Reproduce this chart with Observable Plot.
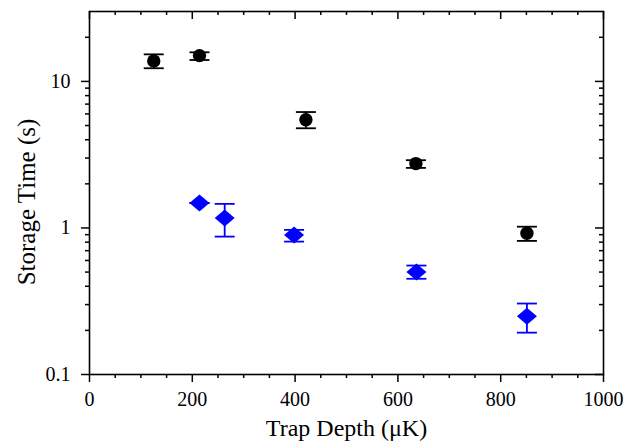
<!DOCTYPE html>
<html>
<head>
<meta charset="utf-8">
<script src="https://cdn.jsdelivr.net/npm/d3@7"></script>
<script src="https://cdn.jsdelivr.net/npm/@observablehq/plot@0.6"></script>
<style>
  html, body { margin: 0; padding: 0; background: #fff; }
  svg text { font-family: 'Liberation Serif', 'Times New Roman', serif !important; }
</style>
</head>
<body>
<div id="chart"></div>
<script>
// Data
const blackX  = [125, 214, 421, 635, 851];
const blackY  = [13.8, 15.0, 5.48, 2.75, 0.92];
const blackLo = [12.3, 14.0, 4.79, 2.57, 0.816];
const blackHi = [15.3, 15.8, 6.18, 2.90, 1.02];

const blueX  = [214, 263, 398, 636, 851];
const blueY  = [1.48, 1.17, 0.896, 0.50, 0.25];
const blueLo = [1.48, 0.873, 0.807, 0.45, 0.193];
const blueHi = [1.48, 1.46, 0.97, 0.554, 0.305];

const xMajor = [0, 200, 400, 600, 800, 1000];
const xMinor = [50, 100, 150, 250, 300, 350, 450, 500, 550, 650, 700, 750, 850, 900, 950];
const yMajor = [0.1, 1, 10];
const yMinor = [0.2, 0.3, 0.4, 0.5, 0.6, 0.7, 0.8, 0.9, 2, 3, 4, 5, 6, 7, 8, 9, 20];
const xTitle = "Trap Depth (\u03bcK)";
const yTitle = "Storage Time (s)";

const black = blackX.map((x, i) => ({x, y: blackY[i], lo: blackLo[i], hi: blackHi[i]}));
const blue  = blueX.map((x, i) => ({x, y: blueY[i], lo: blueLo[i], hi: blueHi[i]}));

const FONT = "'Liberation Serif', 'Times New Roman', serif";
const W = 639, H = 441;
const mL = 89, mR = 36, mT = 11, mB = 67;
const pW = W - mL - mR, pH = H - mT - mB;
const MAJ = 8, MIN = 4;

const capSymbol = { draw(ctx) { ctx.moveTo(-10, 0); ctx.lineTo(10, 0); } };
const diamondSymbol = { draw(ctx) {
  ctx.moveTo(0, -8.5); ctx.lineTo(10, 0); ctx.lineTo(0, 8.5); ctx.lineTo(-10, 0); ctx.closePath();
} };

function errMarks(data, color) {
  return [
    Plot.ruleX(data, {x: "x", y1: "lo", y2: "hi", stroke: color, strokeWidth: 1.8}),
    Plot.dot(data, {x: "x", y: "hi", symbol: capSymbol, stroke: color, fill: "none", strokeWidth: 1.8}),
    Plot.dot(data, {x: "x", y: "lo", symbol: capSymbol, stroke: color, fill: "none", strokeWidth: 1.8})
  ];
}

const tickStyle = {stroke: "#000", strokeWidth: 1.5};

const chart = Plot.plot({
  width: W, height: H,
  marginLeft: mL, marginRight: mR, marginTop: mT, marginBottom: mB,
  style: {fontFamily: FONT, color: "#000", background: "#fff"},
  x: {domain: [0, 1000]},
  y: {type: "log", domain: [0.1, 30]},
  marks: [
    // tick marks: bottom/left outward, top/right inward
    Plot.tickX(xMajor, {x: d => d, insetTop: pH, insetBottom: -MAJ, ...tickStyle}),
    Plot.tickX(xMinor, {x: d => d, insetTop: pH, insetBottom: -MIN, ...tickStyle}),
    Plot.tickX(xMajor, {x: d => d, insetTop: 0, insetBottom: pH - MAJ, ...tickStyle}),
    Plot.tickX(xMinor, {x: d => d, insetTop: 0, insetBottom: pH - MIN, ...tickStyle}),
    Plot.tickY(yMajor, {y: d => d, insetLeft: -MAJ, insetRight: pW, ...tickStyle}),
    Plot.tickY(yMinor, {y: d => d, insetLeft: -MIN, insetRight: pW, ...tickStyle}),
    Plot.tickY(yMajor, {y: d => d, insetLeft: pW - MAJ, insetRight: 0, ...tickStyle}),
    Plot.tickY(yMinor, {y: d => d, insetLeft: pW - MIN, insetRight: 0, ...tickStyle}),
    Plot.frame({stroke: "#000", strokeWidth: 1.6}),
    Plot.axisX({ticks: xMajor, tickSize: 0, tickPadding: 17, fontSize: 20, fontFamily: FONT, fontVariant: "normal", label: null, tickFormat: d => String(d)}),
    Plot.axisY({ticks: yMajor, tickSize: 0, tickPadding: 19, fontSize: 20, fontFamily: FONT, fontVariant: "normal", label: null, tickFormat: d => String(d)}),
    Plot.text([xTitle], {text: d => d, frameAnchor: "bottom", textAnchor: "middle", lineAnchor: "bottom", dy: 61, fontSize: 24, fontFamily: FONT}),
    Plot.text([yTitle], {text: d => d, frameAnchor: "left", textAnchor: "middle", rotate: -90, dx: -63, dy: 9, fontSize: 25, fontFamily: FONT}),
    // data
    ...errMarks(black, "#000"),
    Plot.dot(black, {x: "x", y: "y", r: 6.7, fill: "#000", stroke: "none"}),
    ...errMarks(blue, "#0000ff"),
    Plot.dot(blue, {x: "x", y: "y", symbol: diamondSymbol, fill: "#0000ff", stroke: "none"})
  ]
});
document.getElementById("chart").appendChild(chart);
</script>
</body>
</html>
